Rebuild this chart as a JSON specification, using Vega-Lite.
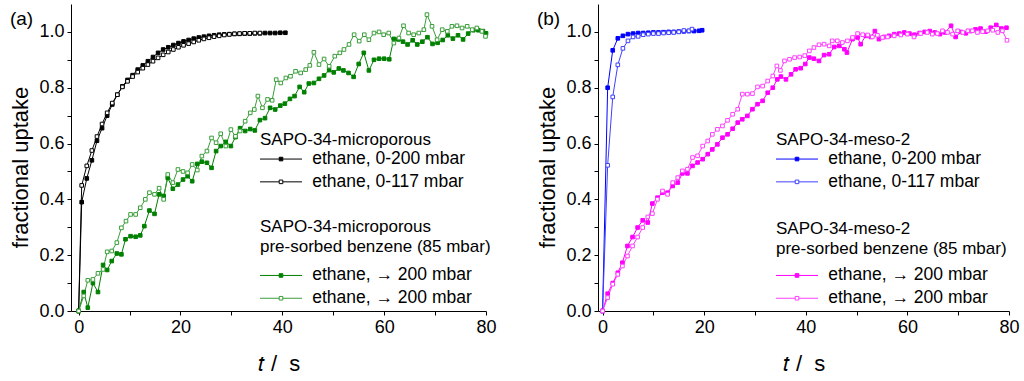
{
  "$schema": "https://vega.github.io/schema/vega-lite/v6.json",
  "padding": {"left": 9, "top": 4, "right": 4, "bottom": 4},
  "config": {
    "view": {"stroke": null},
    "font": "Liberation Sans",
    "axis": {"domainColor": "#000", "tickColor": "#000", "labelColor": "#000", "titleColor": "#000", "labelFont": "Liberation Sans", "titleFont": "Liberation Sans", "labelFontSize": 18, "titleFontSize": 22, "titleFontWeight": "normal", "tickSize": 4, "grid": false, "labelPadding": 3, "domainWidth": 1, "tickWidth": 1, "labelFlush": false, "labelOverlap": false},
    "legend": {"orient": "none", "titleFont": "Liberation Sans", "labelFont": "Liberation Sans", "titleFontSize": 17, "labelFontSize": 17.5, "titleFontWeight": "normal", "titleColor": "#000", "labelColor": "#000", "titleLimit": 400, "labelLimit": 400, "padding": 0, "symbolType": "M-10.5,0H-0.9M0.9,0H10.5M-0.9,-0.9H0.9V0.9H-0.9Z", "symbolSize": 16, "symbolStrokeWidth": 1, "symbolOffset": 12.25, "labelOffset": 22.5, "rowPadding": 3.8, "titleLineHeight": 19.5}
  },
  "datasets": {
    "a_black": [
      {"s":"f","t":0,"v":0},{"s":"f","t":0.6,"v":0.39},{"s":"f","t":1.6,"v":0.475},{"s":"f","t":2.6,"v":0.54},{"s":"f","t":3.6,"v":0.61},{"s":"f","t":4.6,"v":0.655},{"s":"f","t":5.6,"v":0.7},{"s":"f","t":6.6,"v":0.74},{"s":"f","t":7.6,"v":0.775},{"s":"f","t":8.6,"v":0.805},{"s":"f","t":9.6,"v":0.828},{"s":"f","t":10.6,"v":0.845},{"s":"f","t":11.6,"v":0.865},{"s":"f","t":12.6,"v":0.88},{"s":"f","t":13.6,"v":0.895},{"s":"f","t":14.6,"v":0.91},{"s":"f","t":15.6,"v":0.925},{"s":"f","t":16.6,"v":0.937},{"s":"f","t":17.6,"v":0.945},{"s":"f","t":18.6,"v":0.953},{"s":"f","t":19.6,"v":0.96},{"s":"f","t":20.6,"v":0.966},{"s":"f","t":21.6,"v":0.971},{"s":"f","t":22.6,"v":0.976},{"s":"f","t":23.6,"v":0.98},{"s":"f","t":24.6,"v":0.983},{"s":"f","t":25.6,"v":0.986},{"s":"f","t":26.6,"v":0.988},{"s":"f","t":27.6,"v":0.99},{"s":"f","t":28.6,"v":0.991},{"s":"f","t":29.6,"v":0.992},{"s":"f","t":30.6,"v":0.993},{"s":"f","t":31.6,"v":0.993},{"s":"f","t":32.6,"v":0.994},{"s":"f","t":33.6,"v":0.994},{"s":"f","t":34.6,"v":0.995},{"s":"f","t":35.6,"v":0.995},{"s":"f","t":36.6,"v":0.996},{"s":"f","t":37.6,"v":0.996},{"s":"f","t":38.6,"v":0.996},{"s":"f","t":39.6,"v":0.997},{"s":"f","t":40.6,"v":0.997},
      {"s":"o","t":0,"v":0},{"s":"o","t":0.6,"v":0.45},{"s":"o","t":1.6,"v":0.52},{"s":"o","t":2.6,"v":0.575},{"s":"o","t":3.6,"v":0.625},{"s":"o","t":4.6,"v":0.67},{"s":"o","t":5.6,"v":0.71},{"s":"o","t":6.6,"v":0.745},{"s":"o","t":7.6,"v":0.775},{"s":"o","t":8.6,"v":0.803},{"s":"o","t":9.6,"v":0.823},{"s":"o","t":10.6,"v":0.84},{"s":"o","t":11.6,"v":0.856},{"s":"o","t":12.6,"v":0.87},{"s":"o","t":13.6,"v":0.883},{"s":"o","t":14.6,"v":0.895},{"s":"o","t":15.6,"v":0.907},{"s":"o","t":16.6,"v":0.918},{"s":"o","t":17.6,"v":0.928},{"s":"o","t":18.6,"v":0.937},{"s":"o","t":19.6,"v":0.945},{"s":"o","t":20.6,"v":0.952},{"s":"o","t":21.6,"v":0.958},{"s":"o","t":22.6,"v":0.964},{"s":"o","t":23.6,"v":0.97},{"s":"o","t":24.6,"v":0.975},{"s":"o","t":25.6,"v":0.979},{"s":"o","t":26.6,"v":0.983},{"s":"o","t":27.6,"v":0.986},{"s":"o","t":28.6,"v":0.989},{"s":"o","t":29.6,"v":0.991},{"s":"o","t":30.6,"v":0.993},{"s":"o","t":31.6,"v":0.994},{"s":"o","t":32.6,"v":0.995},{"s":"o","t":33.6,"v":0.995},{"s":"o","t":34.6,"v":0.996},{"s":"o","t":35.6,"v":0.996}
    ],
    "a_green": [
      {"s":"f","t":0,"v":0},{"s":"f","t":1.0,"v":0.068},{"s":"f","t":1.8,"v":0.012},{"s":"f","t":2.8,"v":0.1},{"s":"f","t":3.8,"v":0.068},{"s":"f","t":4.8,"v":0.165},{"s":"f","t":5.6,"v":0.147},{"s":"f","t":6.5,"v":0.179},{"s":"f","t":7.5,"v":0.206},{"s":"f","t":8.4,"v":0.203},{"s":"f","t":9.2,"v":0.257},{"s":"f","t":10.2,"v":0.268},{"s":"f","t":11.2,"v":0.266},{"s":"f","t":12.1,"v":0.271},{"s":"f","t":12.9,"v":0.304},{"s":"f","t":13.9,"v":0.36},{"s":"f","t":14.9,"v":0.348},{"s":"f","t":15.8,"v":0.418},{"s":"f","t":16.7,"v":0.412},{"s":"f","t":17.5,"v":0.477},{"s":"f","t":18.5,"v":0.438},{"s":"f","t":19.5,"v":0.453},{"s":"f","t":20.5,"v":0.471},{"s":"f","t":21.4,"v":0.483},{"s":"f","t":22.3,"v":0.465},{"s":"f","t":23.3,"v":0.527},{"s":"f","t":24.2,"v":0.535},{"s":"f","t":25.2,"v":0.531},{"s":"f","t":26.1,"v":0.513},{"s":"f","t":27.0,"v":0.573},{"s":"f","t":27.9,"v":0.591},{"s":"f","t":28.9,"v":0.606},{"s":"f","t":29.9,"v":0.591},{"s":"f","t":30.8,"v":0.623},{"s":"f","t":31.7,"v":0.655},{"s":"f","t":32.7,"v":0.645},{"s":"f","t":33.7,"v":0.652},{"s":"f","t":34.6,"v":0.647},{"s":"f","t":35.6,"v":0.684},{"s":"f","t":36.6,"v":0.691},{"s":"f","t":37.6,"v":0.728},{"s":"f","t":38.6,"v":0.722},{"s":"f","t":39.6,"v":0.736},{"s":"f","t":40.5,"v":0.743},{"s":"f","t":41.5,"v":0.76},{"s":"f","t":42.4,"v":0.77},{"s":"f","t":43.4,"v":0.803},{"s":"f","t":44.3,"v":0.784},{"s":"f","t":45.2,"v":0.815},{"s":"f","t":46.2,"v":0.817},{"s":"f","t":47.2,"v":0.832},{"s":"f","t":48.2,"v":0.844},{"s":"f","t":49.2,"v":0.863},{"s":"f","t":50.1,"v":0.855},{"s":"f","t":51.1,"v":0.869},{"s":"f","t":52.0,"v":0.862},{"s":"f","t":53.0,"v":0.853},{"s":"f","t":54.0,"v":0.839},{"s":"f","t":55.0,"v":0.885},{"s":"f","t":56.0,"v":0.925},{"s":"f","t":57.0,"v":0.862},{"s":"f","t":58.0,"v":0.9},{"s":"f","t":59.0,"v":0.904},{"s":"f","t":60.0,"v":0.904},{"s":"f","t":61.0,"v":0.902},{"s":"f","t":61.9,"v":0.975},{"s":"f","t":62.8,"v":0.973},{"s":"f","t":63.7,"v":0.965},{"s":"f","t":64.6,"v":0.955},{"s":"f","t":65.6,"v":0.97},{"s":"f","t":66.5,"v":0.955},{"s":"f","t":67.5,"v":0.965},{"s":"f","t":68.5,"v":0.981},{"s":"f","t":69.5,"v":0.957},{"s":"f","t":70.5,"v":0.961},{"s":"f","t":71.5,"v":0.971},{"s":"f","t":72.5,"v":0.988},{"s":"f","t":73.5,"v":0.976},{"s":"f","t":74.5,"v":0.988},{"s":"f","t":75.5,"v":0.973},{"s":"f","t":76.5,"v":0.994},{"s":"f","t":77.5,"v":1.006},{"s":"f","t":78.5,"v":1.006},{"s":"f","t":79.4,"v":1.003},{"s":"f","t":80.0,"v":0.995},
      {"s":"o","t":0,"v":0},{"s":"o","t":1.0,"v":0.054},{"s":"o","t":1.8,"v":0.11},{"s":"o","t":2.8,"v":0.113},{"s":"o","t":3.8,"v":0.135},{"s":"o","t":4.8,"v":0.149},{"s":"o","t":5.6,"v":0.212},{"s":"o","t":6.5,"v":0.215},{"s":"o","t":7.5,"v":0.245},{"s":"o","t":8.4,"v":0.298},{"s":"o","t":9.3,"v":0.322},{"s":"o","t":10.2,"v":0.346},{"s":"o","t":11.2,"v":0.346},{"s":"o","t":12.1,"v":0.37},{"s":"o","t":13.1,"v":0.4},{"s":"o","t":13.9,"v":0.424},{"s":"o","t":14.9,"v":0.418},{"s":"o","t":15.8,"v":0.44},{"s":"o","t":16.7,"v":0.4},{"s":"o","t":17.5,"v":0.489},{"s":"o","t":18.5,"v":0.46},{"s":"o","t":19.5,"v":0.507},{"s":"o","t":20.5,"v":0.5},{"s":"o","t":21.4,"v":0.495},{"s":"o","t":22.3,"v":0.525},{"s":"o","t":23.3,"v":0.505},{"s":"o","t":24.2,"v":0.555},{"s":"o","t":25.2,"v":0.573},{"s":"o","t":26.1,"v":0.62},{"s":"o","t":27.0,"v":0.603},{"s":"o","t":27.9,"v":0.635},{"s":"o","t":28.9,"v":0.591},{"s":"o","t":29.9,"v":0.65},{"s":"o","t":30.8,"v":0.626},{"s":"o","t":31.7,"v":0.645},{"s":"o","t":32.7,"v":0.68},{"s":"o","t":33.7,"v":0.71},{"s":"o","t":34.5,"v":0.722},{"s":"o","t":35.2,"v":0.77},{"s":"o","t":36.1,"v":0.728},{"s":"o","t":37.1,"v":0.758},{"s":"o","t":38.0,"v":0.755},{"s":"o","t":38.8,"v":0.829},{"s":"o","t":39.7,"v":0.817},{"s":"o","t":40.7,"v":0.835},{"s":"o","t":41.6,"v":0.841},{"s":"o","t":42.6,"v":0.859},{"s":"o","t":43.6,"v":0.853},{"s":"o","t":44.6,"v":0.865},{"s":"o","t":45.4,"v":0.88},{"s":"o","t":46.2,"v":0.927},{"s":"o","t":47.2,"v":0.883},{"s":"o","t":48.2,"v":0.903},{"s":"o","t":49.2,"v":0.877},{"s":"o","t":50.3,"v":0.913},{"s":"o","t":51.3,"v":0.925},{"s":"o","t":52.1,"v":0.937},{"s":"o","t":53.1,"v":0.955},{"s":"o","t":54.1,"v":0.99},{"s":"o","t":55.1,"v":0.967},{"s":"o","t":56.1,"v":0.99},{"s":"o","t":57.0,"v":0.972},{"s":"o","t":58.0,"v":0.996},{"s":"o","t":59.0,"v":1.0},{"s":"o","t":59.9,"v":0.99},{"s":"o","t":60.9,"v":0.996},{"s":"o","t":61.9,"v":0.96},{"s":"o","t":62.9,"v":0.978},{"s":"o","t":63.8,"v":1.022},{"s":"o","t":64.8,"v":0.996},{"s":"o","t":65.8,"v":0.99},{"s":"o","t":66.8,"v":0.996},{"s":"o","t":67.8,"v":1.008},{"s":"o","t":68.4,"v":1.062},{"s":"o","t":69.4,"v":1.02},{"s":"o","t":70.4,"v":0.972},{"s":"o","t":71.4,"v":1.008},{"s":"o","t":72.4,"v":1.002},{"s":"o","t":73.3,"v":1.02},{"s":"o","t":74.3,"v":1.022},{"s":"o","t":75.3,"v":1.014},{"s":"o","t":76.3,"v":1.02},{"s":"o","t":77.3,"v":1.008},{"s":"o","t":78.2,"v":1.014},{"s":"o","t":79.2,"v":1.002},{"s":"o","t":79.9,"v":0.984}
    ],
    "b_blue": [
      {"s":"f","t":0,"v":0},{"s":"f","t":1,"v":0.8},{"s":"f","t":2,"v":0.934},{"s":"f","t":3,"v":0.977},{"s":"f","t":4,"v":0.986},{"s":"f","t":5,"v":0.992},{"s":"f","t":6,"v":0.994},{"s":"f","t":7,"v":0.996},{"s":"f","t":8,"v":0.996},{"s":"f","t":9,"v":0.997},{"s":"f","t":10,"v":0.998},{"s":"f","t":11,"v":0.998},{"s":"f","t":12,"v":0.999},{"s":"f","t":13,"v":1.0},{"s":"f","t":14,"v":1.0},{"s":"f","t":15,"v":1.001},{"s":"f","t":16,"v":1.002},{"s":"f","t":17,"v":1.003},{"s":"f","t":18,"v":1.003},{"s":"f","t":19,"v":1.004},{"s":"f","t":19.6,"v":1.006},
      {"s":"o","t":0,"v":0},{"s":"o","t":1,"v":0.522},{"s":"o","t":2,"v":0.767},{"s":"o","t":3,"v":0.882},{"s":"o","t":4,"v":0.941},{"s":"o","t":5,"v":0.968},{"s":"o","t":6,"v":0.982},{"s":"o","t":7,"v":0.984},{"s":"o","t":8,"v":0.99},{"s":"o","t":9,"v":0.992},{"s":"o","t":10,"v":0.994},{"s":"o","t":11,"v":0.994},{"s":"o","t":12,"v":0.996},{"s":"o","t":13,"v":0.997},{"s":"o","t":14,"v":0.998},{"s":"o","t":15,"v":1.0},{"s":"o","t":16,"v":1.005},{"s":"o","t":17,"v":1.004},{"s":"o","t":17.6,"v":1.01}
    ],
    "b_mag": [
      {"s":"f","t":0,"v":0},{"s":"f","t":1.0,"v":0.062},{"s":"f","t":2.0,"v":0.1},{"s":"f","t":3.0,"v":0.137},{"s":"f","t":3.9,"v":0.173},{"s":"f","t":4.9,"v":0.233},{"s":"f","t":5.9,"v":0.265},{"s":"f","t":6.9,"v":0.299},{"s":"f","t":7.9,"v":0.325},{"s":"f","t":8.9,"v":0.317},{"s":"f","t":9.8,"v":0.385},{"s":"f","t":10.8,"v":0.406},{"s":"f","t":11.8,"v":0.424},{"s":"f","t":12.8,"v":0.424},{"s":"f","t":13.8,"v":0.448},{"s":"f","t":14.8,"v":0.46},{"s":"f","t":15.7,"v":0.493},{"s":"f","t":16.7,"v":0.493},{"s":"f","t":17.7,"v":0.52},{"s":"f","t":18.7,"v":0.532},{"s":"f","t":19.7,"v":0.544},{"s":"f","t":20.7,"v":0.562},{"s":"f","t":21.6,"v":0.579},{"s":"f","t":22.6,"v":0.597},{"s":"f","t":23.6,"v":0.621},{"s":"f","t":24.6,"v":0.633},{"s":"f","t":25.6,"v":0.653},{"s":"f","t":26.6,"v":0.675},{"s":"f","t":27.5,"v":0.687},{"s":"f","t":28.5,"v":0.699},{"s":"f","t":29.5,"v":0.723},{"s":"f","t":30.5,"v":0.741},{"s":"f","t":31.5,"v":0.753},{"s":"f","t":32.5,"v":0.782},{"s":"f","t":33.5,"v":0.8},{"s":"f","t":34.4,"v":0.83},{"s":"f","t":35.1,"v":0.84},{"s":"f","t":36.1,"v":0.83},{"s":"f","t":37.1,"v":0.848},{"s":"f","t":38.0,"v":0.866},{"s":"f","t":39.0,"v":0.87},{"s":"f","t":39.9,"v":0.885},{"s":"f","t":40.7,"v":0.908},{"s":"f","t":41.6,"v":0.904},{"s":"f","t":42.6,"v":0.896},{"s":"f","t":43.6,"v":0.917},{"s":"f","t":44.6,"v":0.92},{"s":"f","t":45.6,"v":0.946},{"s":"f","t":46.6,"v":0.95},{"s":"f","t":47.6,"v":0.938},{"s":"f","t":48.1,"v":0.926},{"s":"f","t":49.2,"v":0.974},{"s":"f","t":50.2,"v":0.98},{"s":"f","t":50.8,"v":0.956},{"s":"f","t":51.8,"v":0.986},{"s":"f","t":52.8,"v":0.982},{"s":"f","t":53.6,"v":1.003},{"s":"f","t":54.4,"v":0.974},{"s":"f","t":55.4,"v":0.982},{"s":"f","t":56.4,"v":0.986},{"s":"f","t":57.4,"v":0.992},{"s":"f","t":58.4,"v":0.994},{"s":"f","t":59.4,"v":0.998},{"s":"f","t":60.4,"v":0.994},{"s":"f","t":61.4,"v":0.99},{"s":"f","t":62.4,"v":0.996},{"s":"f","t":63.4,"v":1.0},{"s":"f","t":64.4,"v":1.003},{"s":"f","t":65.4,"v":0.998},{"s":"f","t":66.4,"v":0.992},{"s":"f","t":67.4,"v":0.998},{"s":"f","t":68.6,"v":1.022},{"s":"f","t":69.5,"v":0.982},{"s":"f","t":70.5,"v":1.0},{"s":"f","t":71.5,"v":0.995},{"s":"f","t":72.4,"v":1.003},{"s":"f","t":73.4,"v":1.009},{"s":"f","t":74.4,"v":1.012},{"s":"f","t":75.4,"v":1.001},{"s":"f","t":76.4,"v":1.015},{"s":"f","t":77.5,"v":1.025},{"s":"f","t":78.5,"v":1.012},{"s":"f","t":79.5,"v":1.015},
      {"s":"o","t":0,"v":0},{"s":"o","t":1.0,"v":0.048},{"s":"o","t":2.0,"v":0.096},{"s":"o","t":3.0,"v":0.131},{"s":"o","t":3.9,"v":0.161},{"s":"o","t":4.9,"v":0.197},{"s":"o","t":5.9,"v":0.233},{"s":"o","t":6.9,"v":0.265},{"s":"o","t":7.9,"v":0.299},{"s":"o","t":8.9,"v":0.337},{"s":"o","t":9.8,"v":0.349},{"s":"o","t":10.8,"v":0.4},{"s":"o","t":11.8,"v":0.43},{"s":"o","t":12.8,"v":0.418},{"s":"o","t":13.8,"v":0.46},{"s":"o","t":14.8,"v":0.478},{"s":"o","t":15.7,"v":0.502},{"s":"o","t":16.7,"v":0.508},{"s":"o","t":17.7,"v":0.55},{"s":"o","t":18.7,"v":0.556},{"s":"o","t":19.7,"v":0.591},{"s":"o","t":20.7,"v":0.609},{"s":"o","t":21.6,"v":0.633},{"s":"o","t":22.6,"v":0.651},{"s":"o","t":23.6,"v":0.663},{"s":"o","t":24.6,"v":0.683},{"s":"o","t":25.6,"v":0.705},{"s":"o","t":26.6,"v":0.723},{"s":"o","t":27.5,"v":0.777},{"s":"o","t":28.5,"v":0.777},{"s":"o","t":29.5,"v":0.779},{"s":"o","t":30.5,"v":0.803},{"s":"o","t":31.5,"v":0.806},{"s":"o","t":32.5,"v":0.824},{"s":"o","t":33.5,"v":0.842},{"s":"o","t":34.3,"v":0.878},{"s":"o","t":35.0,"v":0.862},{"s":"o","t":35.8,"v":0.896},{"s":"o","t":36.8,"v":0.902},{"s":"o","t":37.8,"v":0.908},{"s":"o","t":38.8,"v":0.91},{"s":"o","t":39.8,"v":0.915},{"s":"o","t":40.7,"v":0.932},{"s":"o","t":41.6,"v":0.944},{"s":"o","t":42.6,"v":0.954},{"s":"o","t":43.6,"v":0.956},{"s":"o","t":44.6,"v":0.95},{"s":"o","t":45.2,"v":0.968},{"s":"o","t":46.2,"v":0.968},{"s":"o","t":47.2,"v":0.962},{"s":"o","t":48.2,"v":0.968},{"s":"o","t":49.2,"v":0.98},{"s":"o","t":50.2,"v":0.994},{"s":"o","t":51.2,"v":0.99},{"s":"o","t":52.2,"v":0.989},{"s":"o","t":53.1,"v":0.982},{"s":"o","t":54.1,"v":0.988},{"s":"o","t":55.1,"v":0.98},{"s":"o","t":56.1,"v":0.982},{"s":"o","t":57.4,"v":0.986},{"s":"o","t":58.7,"v":0.989},{"s":"o","t":60.0,"v":0.992},{"s":"o","t":61.3,"v":0.982},{"s":"o","t":62.6,"v":0.994},{"s":"o","t":63.9,"v":0.998},{"s":"o","t":64.9,"v":0.992},{"s":"o","t":65.9,"v":0.994},{"s":"o","t":66.9,"v":1.004},{"s":"o","t":67.9,"v":0.998},{"s":"o","t":68.9,"v":0.992},{"s":"o","t":69.9,"v":1.004},{"s":"o","t":70.9,"v":0.998},{"s":"o","t":71.9,"v":1.004},{"s":"o","t":72.8,"v":1.004},{"s":"o","t":73.8,"v":0.998},{"s":"o","t":74.8,"v":1.001},{"s":"o","t":75.8,"v":1.004},{"s":"o","t":76.8,"v":1.006},{"s":"o","t":77.8,"v":0.998},{"s":"o","t":78.7,"v":1.004},{"s":"o","t":79.6,"v":0.97}
    ]
  },
  "spacing": 39,
  "resolve": {"scale": {"x": "independent", "y": "independent", "stroke": "independent", "fill": "independent"}},
  "hconcat": [
    {
      "width": 415, "height": 307,
      "title": {"text": "(a)", "anchor": "start", "frame": "bounds", "orient": "top", "baseline": "bottom", "offset": -44, "fontSize": 19, "fontWeight": "normal", "font": "Liberation Sans", "color": "#000"},
      "encoding": {
        "x": {"field": "t", "type": "quantitative", "scale": {"domain": [-1.5, 80], "nice": false, "zero": false}, "axis": {"title": "\ud835\udc61 / \u00a0s", "values": [0,10,20,30,40,50,60,70,80], "labelExpr": "datum.value % 20 == 0 ? datum.label : ''", "titlePadding": 17}},
        "y": {"field": "v", "type": "quantitative", "scale": {"domain": [0, 1.1], "nice": false}, "axis": {"title": "fractional uptake", "values": [0,0.1,0.2,0.3,0.4,0.5,0.6,0.7,0.8,0.9,1.0], "labelExpr": "round(datum.value*10) % 2 == 0 ? format(datum.value, '.1f') : ''", "titlePadding": 6, "titleY": 163}}
      },
      "layer": [
        {
          "data": {"name": "a_black"},
          "layer": [
            {"mark": {"type": "line", "strokeWidth": 1}, "encoding": {"stroke": {"field": "s", "type": "nominal", "scale": {"domain": ["f","o"], "range": ["#000000","#000000"]}, "legend": {"title": "SAPO-34-microporous", "legendX": 189, "legendY": 128, "titlePadding": 1.3, "labelExpr": "datum.value == 'f' ? 'ethane, 0-200 mbar' : 'ethane, 0-117 mbar'"}}}},
            {"mark": {"type": "square", "size": 13, "opacity": 1, "strokeWidth": 1},
             "encoding": {
               "stroke": {"field": "s", "type": "nominal", "scale": {"domain": ["f","o"], "range": ["#000000","#000000"]}, "legend": {"title": "SAPO-34-microporous", "legendX": 189, "legendY": 128, "titlePadding": 1.3, "labelExpr": "datum.value == 'f' ? 'ethane, 0-200 mbar' : 'ethane, 0-117 mbar'"}},
               "fill": {"field": "s", "type": "nominal", "scale": {"domain": ["f","o"], "range": ["#000000","#ffffff"]}, "legend": {"title": "SAPO-34-microporous", "legendX": 189, "legendY": 128, "titlePadding": 1.3, "labelExpr": "datum.value == 'f' ? 'ethane, 0-200 mbar' : 'ethane, 0-117 mbar'"}}
             }}
          ]
        },
        {
          "data": {"name": "a_green"},
          "layer": [
            {"mark": {"type": "line", "strokeWidth": 1}, "encoding": {"stroke": {"field": "s", "type": "nominal", "scale": {"domain": ["f","o"], "range": ["#008000","#3a9e3a"]}, "legend": {"title": ["SAPO-34-microporous", "pre-sorbed benzene (85 mbar)"], "legendX": 189, "legendY": 215, "titlePadding": 11.2, "labelExpr": "'ethane, \u2192 200 mbar'"}}}},
            {"mark": {"type": "square", "size": 13, "opacity": 1, "strokeWidth": 1},
             "encoding": {
               "stroke": {"field": "s", "type": "nominal", "scale": {"domain": ["f","o"], "range": ["#008000","#3a9e3a"]}, "legend": {"title": ["SAPO-34-microporous", "pre-sorbed benzene (85 mbar)"], "legendX": 189, "legendY": 215, "titlePadding": 11.2, "labelExpr": "'ethane, \u2192 200 mbar'"}},
               "fill": {"field": "s", "type": "nominal", "scale": {"domain": ["f","o"], "range": ["#008000","#ffffff"]}, "legend": {"title": ["SAPO-34-microporous", "pre-sorbed benzene (85 mbar)"], "legendX": 189, "legendY": 215, "titlePadding": 11.2, "labelExpr": "'ethane, \u2192 200 mbar'"}}
             }}
          ]
        }
      ],
      "resolve": {"scale": {"stroke": "independent", "fill": "independent"}}
    },
    {
      "width": 411, "height": 307,
      "title": {"text": "(b)", "anchor": "start", "frame": "bounds", "orient": "top", "baseline": "bottom", "offset": -44, "fontSize": 19, "fontWeight": "normal", "font": "Liberation Sans", "color": "#000"},
      "encoding": {
        "x": {"field": "t", "type": "quantitative", "scale": {"domain": [-0.9, 80], "nice": false, "zero": false}, "axis": {"title": "\ud835\udc61 / \u00a0s", "values": [0,10,20,30,40,50,60,70,80], "labelExpr": "datum.value % 20 == 0 ? datum.label : ''", "titlePadding": 17}},
        "y": {"field": "v", "type": "quantitative", "scale": {"domain": [0, 1.1], "nice": false}, "axis": {"title": "fractional uptake", "values": [0,0.1,0.2,0.3,0.4,0.5,0.6,0.7,0.8,0.9,1.0], "labelExpr": "round(datum.value*10) % 2 == 0 ? format(datum.value, '.1f') : ''", "titlePadding": 6, "titleY": 163}}
      },
      "layer": [
        {
          "data": {"name": "b_blue"},
          "layer": [
            {"mark": {"type": "line", "strokeWidth": 1}, "encoding": {"stroke": {"field": "s", "type": "nominal", "scale": {"domain": ["f","o"], "range": ["#0000ff","#4040ff"]}, "legend": {"title": "SAPO-34-meso-2", "legendX": 178, "legendY": 128, "titlePadding": 1.3, "labelExpr": "datum.value == 'f' ? 'ethane, 0-200 mbar' : 'ethane, 0-117 mbar'"}}}},
            {"mark": {"type": "square", "size": 13, "opacity": 1, "strokeWidth": 1},
             "encoding": {
               "stroke": {"field": "s", "type": "nominal", "scale": {"domain": ["f","o"], "range": ["#0000ff","#4040ff"]}, "legend": {"title": "SAPO-34-meso-2", "legendX": 178, "legendY": 128, "titlePadding": 1.3, "labelExpr": "datum.value == 'f' ? 'ethane, 0-200 mbar' : 'ethane, 0-117 mbar'"}},
               "fill": {"field": "s", "type": "nominal", "scale": {"domain": ["f","o"], "range": ["#0000ff","#ffffff"]}, "legend": {"title": "SAPO-34-meso-2", "legendX": 178, "legendY": 128, "titlePadding": 1.3, "labelExpr": "datum.value == 'f' ? 'ethane, 0-200 mbar' : 'ethane, 0-117 mbar'"}}
             }}
          ]
        },
        {
          "data": {"name": "b_mag"},
          "layer": [
            {"mark": {"type": "line", "strokeWidth": 1}, "encoding": {"stroke": {"field": "s", "type": "nominal", "scale": {"domain": ["f","o"], "range": ["#ff00ff","#ff40ff"]}, "legend": {"title": ["SAPO-34-meso-2", "pre-sorbed benzene (85 mbar)"], "legendX": 178, "legendY": 217, "titlePadding": 9.2, "labelExpr": "'ethane, \u2192 200 mbar'"}}}},
            {"mark": {"type": "square", "size": 13, "opacity": 1, "strokeWidth": 1},
             "encoding": {
               "stroke": {"field": "s", "type": "nominal", "scale": {"domain": ["f","o"], "range": ["#ff00ff","#ff40ff"]}, "legend": {"title": ["SAPO-34-meso-2", "pre-sorbed benzene (85 mbar)"], "legendX": 178, "legendY": 217, "titlePadding": 9.2, "labelExpr": "'ethane, \u2192 200 mbar'"}},
               "fill": {"field": "s", "type": "nominal", "scale": {"domain": ["f","o"], "range": ["#ff00ff","#ffffff"]}, "legend": {"title": ["SAPO-34-meso-2", "pre-sorbed benzene (85 mbar)"], "legendX": 178, "legendY": 217, "titlePadding": 9.2, "labelExpr": "'ethane, \u2192 200 mbar'"}}
             }}
          ]
        }
      ],
      "resolve": {"scale": {"stroke": "independent", "fill": "independent"}}
    }
  ]
}
